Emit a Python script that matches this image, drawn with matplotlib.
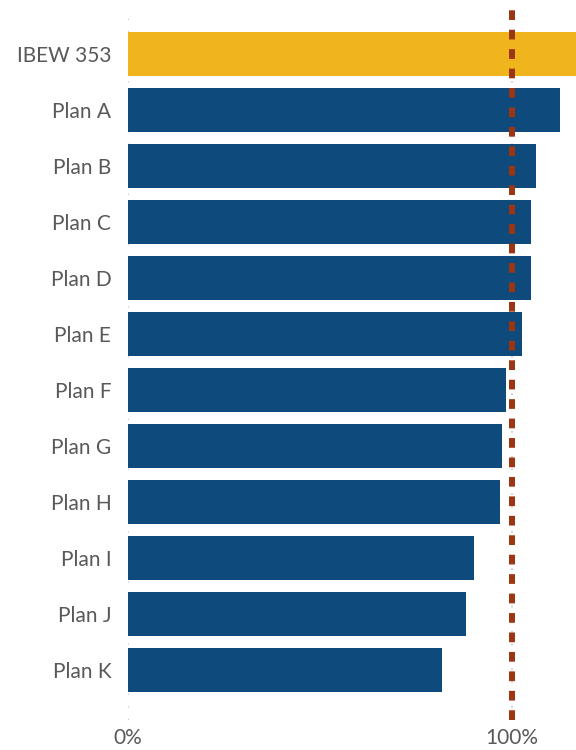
import matplotlib
import matplotlib.pyplot as plt
import numpy as np
matplotlib.use('Agg')
plt.rcParams["font.family"] = ["Lato", "DejaVu Sans"]
plt.rcParams["lines.scale_dashes"] = False

plans = ['IBEW 353', 'Plan A', 'Plan B', 'Plan C', 'Plan D', 'Plan E',
         'Plan F', 'Plan G', 'Plan H', 'Plan I', 'Plan J', 'Plan K']
ratio = [1.17, 1.125, 1.063, 1.05, 1.05, 1.026,
         0.984, 0.974, 0.969, 0.901, 0.88, 0.818]
colors = ['#F0B41C'] + ['#0E4A7B'] * 11
xticks = [0, 1.0]
xtick_labels = ['0%', '100%']

fig = plt.figure(figsize=(5.76, 7.5), dpi=100)
ax = fig.add_axes([128 / 576, 30 / 750, 448 / 576, 710 / 750])

y = np.arange(len(plans))
ax.barh(y, ratio, height=0.79, color=colors, zorder=2)

# dotted gridlines
for xv in xticks:
    ax.axvline(xv, color='#BFBFBF', lw=1.2, linestyle=(0, (1, 8)), zorder=1)
# 100% reference line
ax.axvline(1.0, color='#9C3512', lw=4.3, linestyle=(0, (7, 7)), zorder=3)

ax.set_xlim(0, 448 / 384)
ax.set_ylim(11 + 50 / 56, -44 / 56)
ax.set_yticks(y)
ax.set_yticklabels(plans)
ax.set_xticks(xticks)
ax.set_xticklabels(xtick_labels)
ax.tick_params(axis='both', length=0, labelsize=15, labelcolor='#595959')
ax.tick_params(axis='y', pad=12)
ax.tick_params(axis='x', pad=6)
for s in ax.spines.values():
    s.set_visible(False)

fig.savefig('out.png', dpi=100)
